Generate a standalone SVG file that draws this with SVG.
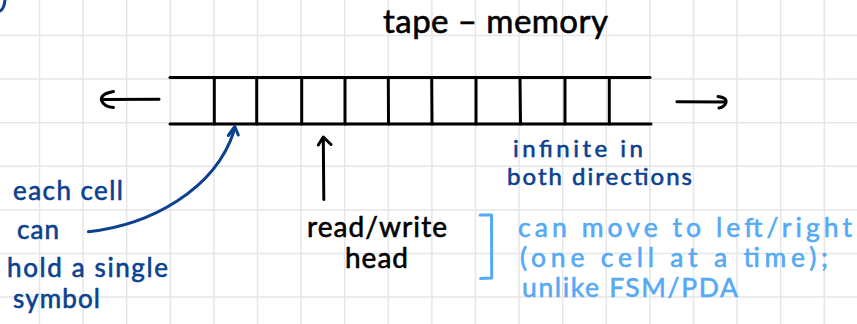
<svg xmlns="http://www.w3.org/2000/svg" width="857" height="324" viewBox="0 0 857 324">
  <defs>
    <style>
      .grid line { stroke: #e6e6e6; stroke-width: 1.5; }
      .ink { fill: none; stroke: #000; stroke-width: 3; stroke-linecap: round; stroke-linejoin: round; }
      .inkdark { fill: none; stroke: #0b4190; stroke-width: 3; stroke-linecap: round; stroke-linejoin: round; }
      .inklight { fill: none; stroke: #55aaf6; stroke-width: 3; stroke-linecap: round; stroke-linejoin: round; }
      text { font-family: "Lato", "Noto Sans", "Liberation Sans", sans-serif; stroke-width: 0.6; stroke-linejoin: round; }
      .black { fill: #000; stroke: #000; }
      .dark { fill: #0b4190; stroke: #0b4190; }
      .light { fill: #55aaf6; stroke: #55aaf6; }
    </style>
  </defs>

  <rect width="857" height="324" fill="#fff"/>

  <!-- squared paper -->
  <g class="grid">
    <line x1="39.5" y1="0" x2="39.5" y2="324"/>
    <line x1="83.1" y1="0" x2="83.1" y2="324"/>
    <line x1="126.7" y1="0" x2="126.7" y2="324"/>
    <line x1="170.3" y1="0" x2="170.3" y2="324"/>
    <line x1="213.9" y1="0" x2="213.9" y2="324"/>
    <line x1="257.5" y1="0" x2="257.5" y2="324"/>
    <line x1="301.1" y1="0" x2="301.1" y2="324"/>
    <line x1="344.7" y1="0" x2="344.7" y2="324"/>
    <line x1="388.3" y1="0" x2="388.3" y2="324"/>
    <line x1="431.9" y1="0" x2="431.9" y2="324"/>
    <line x1="475.5" y1="0" x2="475.5" y2="324"/>
    <line x1="519.1" y1="0" x2="519.1" y2="324"/>
    <line x1="562.7" y1="0" x2="562.7" y2="324"/>
    <line x1="606.3" y1="0" x2="606.3" y2="324"/>
    <line x1="649.9" y1="0" x2="649.9" y2="324"/>
    <line x1="693.5" y1="0" x2="693.5" y2="324"/>
    <line x1="737.1" y1="0" x2="737.1" y2="324"/>
    <line x1="780.7" y1="0" x2="780.7" y2="324"/>
    <line x1="824.3" y1="0" x2="824.3" y2="324"/>
    <line x1="0" y1="35.5" x2="857" y2="35.5"/>
    <line x1="0" y1="79.1" x2="857" y2="79.1"/>
    <line x1="0" y1="122.7" x2="857" y2="122.7"/>
    <line x1="0" y1="166.3" x2="857" y2="166.3"/>
    <line x1="0" y1="209.9" x2="857" y2="209.9"/>
    <line x1="0" y1="253.5" x2="857" y2="253.5"/>
    <line x1="0" y1="297.1" x2="857" y2="297.1"/>
  </g>

  <!-- stray stroke at the top-left corner -->
  <path class="inkdark" d="M 0 11 Q 4 9 5 0"/>

  <!-- title -->
  <g id="title">
    <text class="black" x="383" y="33" font-size="33" textLength="225">tape – memory</text>
  </g>

  <!-- the tape and its cells -->
  <g id="tape" class="ink">
    <line x1="170" y1="77.5" x2="650" y2="77.5"/>
    <line x1="170" y1="124" x2="651" y2="124"/>
    <line x1="214.3" y1="78" x2="214.3" y2="124"/>
    <line x1="256.7" y1="78" x2="256.7" y2="124"/>
    <line x1="301.7" y1="78" x2="301.7" y2="124"/>
    <line x1="345" y1="78" x2="345" y2="124"/>
    <line x1="388.3" y1="78" x2="388.5" y2="124"/>
    <line x1="431.7" y1="78" x2="432" y2="124"/>
    <line x1="476" y1="78" x2="476" y2="124"/>
    <line x1="520" y1="78" x2="520.5" y2="124"/>
    <line x1="565" y1="78" x2="565" y2="124"/>
    <line x1="609.3" y1="78" x2="609.3" y2="124"/>
  </g>

  <!-- head label -->
  <g id="head-label">
    <text class="black" x="307" y="236.7" font-size="28" textLength="140">read/write</text>
    <text class="black" x="345" y="268.3" font-size="28" textLength="63">head</text>
  </g>

  <!-- infinite note -->
  <g id="infinite-note">
    <text class="dark" x="513" y="156.7" font-size="24" textLength="130">infinite in</text>
    <text class="dark" x="507" y="185" font-size="24" textLength="185">both directions</text>
  </g>

  <!-- cell note -->
  <g id="cell-note">
    <text class="dark" x="13" y="200" font-size="26" textLength="110">each cell</text>
    <text class="dark" x="17" y="238.5" font-size="26" textLength="42">can</text>
    <text class="dark" x="7" y="276.7" font-size="26" textLength="161">hold a single</text>
    <text class="dark" x="13" y="308" font-size="26" textLength="87">symbol</text>
  </g>

  <!-- movement note with bracket -->
  <g id="move-note">
    <path class="inklight" d="M 480 215 L 491.5 215 L 491.7 278 L 480.5 278.5"/>
    <text class="light" x="518" y="236.7" font-size="26.5" textLength="334">can move to left/right</text>
    <text class="light" x="520" y="266.7" font-size="26.5" textLength="308">(one cell at a time);</text>
    <text class="light" x="522" y="296.7" font-size="26.5" textLength="216">unlike FSM/PDA</text>
  </g>

  <!-- arrows -->
  <g id="connectors">
    <!-- tape extends left -->
    <path class="ink" d="M 159 99.3 L 102 99.5"/>
    <path class="ink" d="M 113.5 91.5 Q 100 94 101.5 100.5 Q 104 107 113.5 107.5"/>
    <!-- tape extends right -->
    <path class="ink" d="M 677 101.7 L 725 102"/>
    <path class="ink" d="M 718 96.5 Q 727 97.5 726 102.5 Q 724.5 107 719 108"/>
    <!-- read/write head pointer -->
    <path class="ink" d="M 323.3 137.5 L 323.8 199.5"/>
    <path class="ink" d="M 318.3 145 L 323.3 137 L 331 144.5"/>
    <!-- pointer from the cell note to a cell -->
    <path class="inkdark" d="M 88.3 231.7 C 150 225, 215 190, 234 131"/>
    <path class="inkdark" d="M 228.3 135.5 L 234.8 126.5 L 238.3 135" fill="#0b4190"/>
  </g>
</svg>
